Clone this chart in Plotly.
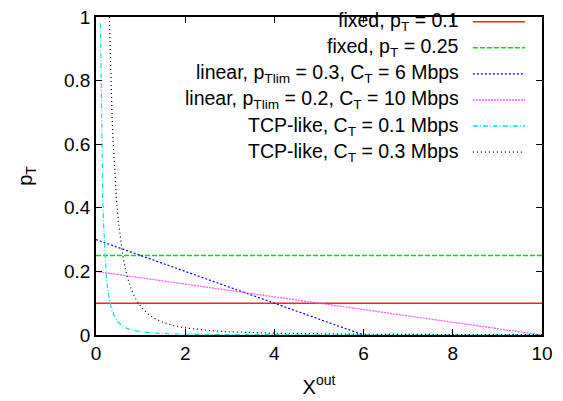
import plotly.graph_objects as go

# ---- data ----
x_full = [0, 10]
fixed_01 = [0.1, 0.1]
fixed_025 = [0.25, 0.25]

lin1_x = [0, 6]
lin1_y = [0.3, 0.0]
lin2_x = [0, 10]
lin2_y = [0.2, 0.0]

tcp01_x = [0.1, 0.11, 0.12, 0.13, 0.14, 0.15, 0.17, 0.2, 0.23, 0.26, 0.3, 0.35, 0.4, 0.5,
           0.6, 0.7, 0.85, 1.0, 1.3, 1.6, 2.0, 3.0, 4.0, 6.0, 8.0, 10.0]
tcp01_y = [0.98, 0.83, 0.69, 0.59, 0.51, 0.44, 0.35, 0.25, 0.19, 0.148, 0.111, 0.082, 0.063, 0.04,
           0.028, 0.02, 0.014, 0.01, 0.006, 0.004, 0.0025, 0.0011, 0.0006, 0.0003, 0.0002, 0.0001]

tcp03_x = [0.3, 0.32, 0.34, 0.36, 0.38, 0.4, 0.43, 0.46, 0.5, 0.55, 0.6, 0.65, 0.7, 0.8,
           0.9, 1.0, 1.15, 1.3, 1.5, 1.75, 2.0, 2.5, 3.0, 4.0, 5.0, 6.0, 8.0, 10.0]
tcp03_y = [1.0, 0.88, 0.78, 0.69, 0.62, 0.56, 0.49, 0.425, 0.36, 0.30, 0.25, 0.213, 0.184, 0.14,
           0.111, 0.09, 0.068, 0.053, 0.04, 0.029, 0.0225, 0.0144, 0.01, 0.0056, 0.0036, 0.0025, 0.0014, 0.0009]

x_tick_vals = [0, 2, 4, 6, 8, 10]
x_tick_text = ["0", "2", "4", "6", "8", "10"]
y_tick_vals = [0, 0.2, 0.4, 0.6, 0.8, 1]
y_tick_text = ["0", "0.2", "0.4", "0.6", "0.8", "1"]

labels = [
    "fixed, p<sub>T</sub> = 0.1",
    "fixed, p<sub>T</sub> = 0.25",
    "linear, p<sub>Tlim</sub> = 0.3, C<sub>T</sub> = 6 Mbps",
    "linear, p<sub>Tlim</sub> = 0.2, C<sub>T</sub> = 10 Mbps",
    "TCP-like, C<sub>T</sub> = 0.1 Mbps",
    "TCP-like, C<sub>T</sub> = 0.3 Mbps",
]
colors = ["#ff2020", "#00e000", "#0000ff", "#ff50ff", "#00e5e5", "#000000"]
dashes = ["solid", "5px,2px", "2px,2px", "2px,1px", "5px,2px,1px,2px", "1px,3px"]
widths = [1.6, 1.5, 1.2, 1.2, 1.2, 1.2]

FONT = "Liberation Sans, Arial, Helvetica, sans-serif"

series = [
    (x_full, fixed_01),
    (x_full, fixed_025),
    (lin1_x, lin1_y),
    (lin2_x, lin2_y),
    (tcp01_x, tcp01_y),
    (tcp03_x, tcp03_y),
]

fig = go.Figure()
for (xs, ys), lab, c, d, w in zip(series, labels, colors, dashes, widths):
    fig.add_trace(go.Scatter(x=xs, y=ys, mode="lines", name=lab,
                             line=dict(color=c, dash=d, width=w), showlegend=False))

# gnuplot-style key: right-aligned text with line sample on its right
row_y = [0.985, 0.903, 0.821, 0.739, 0.657, 0.575]
for lab, c, d, w, yy in zip(labels, colors, dashes, widths, row_y):
    fig.add_annotation(xref="paper", yref="paper", x=0.818, y=yy, text=lab,
                       showarrow=False, xanchor="right", yanchor="middle",
                       font=dict(family=FONT, size=19.5, color="black"))
    fig.add_shape(type="line", xref="paper", yref="paper", x0=0.845, x1=0.962, y0=yy, y1=yy,
                  line=dict(color=c, dash=d, width=max(w, 1.4)))

axis_common = dict(showgrid=False, zeroline=False, showline=True, linecolor="black",
                   linewidth=1.5, mirror="allticks", ticks="inside", ticklen=6,
                   tickcolor="black", tickwidth=1, ticklabeloverflow="allow",
                   tickfont=dict(family=FONT, size=19, color="black"))

fig.update_layout(
    width=563, height=401,
    margin=dict(l=88, r=29, t=9, b=74, autoexpand=False),
    paper_bgcolor="white", plot_bgcolor="white",
    font=dict(family=FONT, size=19, color="black"),
    xaxis=dict(range=[0, 10], tickvals=x_tick_vals, ticktext=x_tick_text,
               title=dict(text="X<sup>out</sup>", font=dict(family=FONT, size=20), standoff=17),
               **axis_common),
    yaxis=dict(range=[0, 1], tickvals=y_tick_vals, ticktext=y_tick_text,
               title=dict(text="p<sub>T</sub>", font=dict(family=FONT, size=20), standoff=26),
               **axis_common),
)

fig.write_html("out.html")
